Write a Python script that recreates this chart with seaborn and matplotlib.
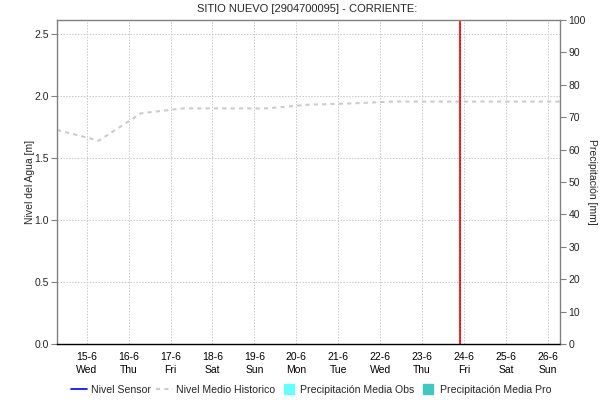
import numpy as np
import pandas as pd
import matplotlib
matplotlib.use('Agg')
import matplotlib.pyplot as plt
import matplotlib.dates as mdates
from matplotlib.lines import Line2D
import seaborn as sns

# Data
dates = pd.date_range('2022-06-14 07:00', periods=13, freq='D')
nivel_medio_historico = [1.726, 1.64, 1.86, 1.90, 1.90, 1.90, 1.93, 1.94, 1.955, 1.955, 1.955, 1.955, 1.955]
tick_days = pd.date_range('2022-06-15', '2022-06-26', freq='D')
tick_labels = [f"{d.day}-{d.month}\n{d.strftime('%a')}" for d in tick_days]
ahora = pd.Timestamp('2022-06-23 21:40')

df = pd.DataFrame({'Fecha': dates, 'Nivel': nivel_medio_historico})

sns.set_style('white')
plt.rcParams['font.family'] = ['Liberation Sans', 'DejaVu Sans']
plt.rcParams['font.size'] = 7.5

fig = plt.figure(figsize=(6.04, 4.0), dpi=100)
ax = fig.add_axes([57 / 604, 1 - 344 / 400, (560 - 57) / 604, (344 - 20) / 400])

sns.lineplot(data=df, x='Fecha', y='Nivel', ax=ax, color='#cccccc',
             linestyle=(0, (2, 2)), linewidth=1.5)

ax.axvline(ahora, color='#ff2020', linewidth=1.4)
ax.axvline(ahora, color='#a00000', linewidth=0.6, linestyle=(0, (1, 3)))

ax.set_xlim(dates[0], dates[-1])
ax.set_ylim(0, 2.613)
ax.set_yticks([0.0, 0.5, 1.0, 1.5, 2.0, 2.5])
ax.set_yticklabels(['0.0', '0.5', '1.0', '1.5', '2.0', '2.5'])
ax.set_xticks(tick_days)
ax.set_xticklabels(tick_labels, linespacing=1.3)
ax.grid(True, color='#c8c8c8', linestyle=(0, (1.5, 1.5)), linewidth=0.7)
ax.tick_params(axis='x', length=0, pad=6, colors='black')
ax.tick_params(axis='y', length=4, width=0.8, color='#808080', pad=2)
ax.set_xlabel('')
ax.set_ylabel('Nivel del Agua [m]')
ax.yaxis.set_label_coords(-(57 - 35) / 503, 0.5)

for s in ['left', 'top', 'right']:
    ax.spines[s].set_color('#808080')
    ax.spines[s].set_linewidth(1.0)
ax.spines['bottom'].set_color('black')
ax.spines['bottom'].set_linestyle((0, (1, 1)))
ax.spines['bottom'].set_linewidth(1.0)

ax2 = ax.twinx()
ax2.set_ylim(0, 100)
ax2.set_yticks(range(0, 101, 10))
ax2.tick_params(axis='y', length=4, width=0.8, color='#808080', pad=2)
ax2.set_ylabel('Precipitación [mm]', rotation=270, va='center')
ax2.yaxis.set_label_coords(1 + (592 - 560) / 503, 0.5)
for s in ax2.spines.values():
    s.set_visible(False)

fig.text(307 / 604, 1 - 9 / 400, 'SITIO NUEVO [2904700095] - CORRIENTE:', ha='center', va='center', fontsize=8)

handles = [
    Line2D([], [], color='#0000ff', linewidth=1.2),
    Line2D([], [], color='#cccccc', linestyle=(0, (2, 2)), linewidth=1.5),
    Line2D([], [], color='#66ffff', marker='s', linestyle='none', markersize=7),
    Line2D([], [], color='#40c8c0', marker='s', linestyle='none', markersize=7),
]
labels = ['Nivel Sensor', 'Nivel Medio Historico', 'Precipitación Media Obs', 'Precipitación Media Pro']
fig.legend(handles, labels, loc='center', bbox_to_anchor=(311 / 604, 1 - 390 / 400), ncol=4,
           frameon=False, fontsize=7.6, handlelength=1.6, handletextpad=0.3, columnspacing=0.5)

plt.savefig('out.png', dpi=100)
